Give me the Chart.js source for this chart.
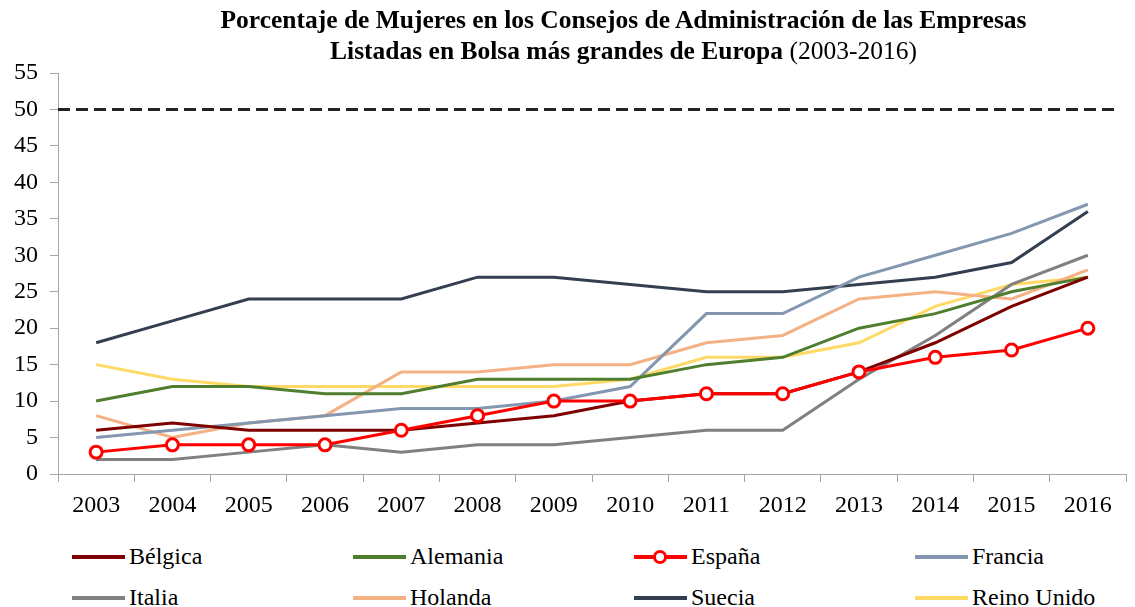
<!DOCTYPE html>
<html>
<head>
<meta charset="utf-8">
<script src="https://cdn.jsdelivr.net/npm/chart.js@4/dist/chart.umd.min.js"></script>
<style>
    body { margin: 0; background: #fff; width: 1135px; height: 607px; overflow: hidden; position: relative; font-family: 'Liberation Serif', serif; }
    #title { position: absolute; top: 4px; left: 112px; width: 1023px; text-align: center; font-size: 25.5px; line-height: 31px; color: #000; }
    #title b { font-weight: bold; }
    #chart-wrap { position: absolute; top: 0; left: 0; }
    #legend { position: absolute; top: 543px; left: 72px; width: 1100px; font-size: 24px; color: #000; }
    .item { position: absolute; display: flex; align-items: center; white-space: nowrap; }
    .swatch { position: relative; width: 53px; height: 4px; margin-right: 4px; }
    .dot { position: absolute; left: 19px; top: -5px; width: 8px; height: 8px; border-radius: 50%; background: #fff; border: 3px solid #ff0000; }
</style>
</head>
<body>
<div id="chart-wrap"><canvas id="chart" width="1135" height="530"></canvas></div>
<div id="title">
    <b>Porcentaje de Mujeres en los Consejos de Administración de las Empresas</b><br>
    <b>Listadas en Bolsa más grandes de Europa</b> (2003-2016)
</div>
<div id="legend"></div>
<script>
let years = ['2003', '2004', '2005', '2006', '2007', '2008', '2009', '2010', '2011', '2012', '2013', '2014', '2015', '2016']
let yTicks = [0, 5, 10, 15, 20, 25, 30, 35, 40, 45, 50, 55]
let target = 50

let belgica = [6, 7, 6, 6, 6, 7, 8, 10, 11, 11, 14, 18, 23, 27]
let alemania = [10, 12, 12, 11, 11, 13, 13, 13, 15, 16, 20, 22, 25, 27]
let espana = [3, 4, 4, 4, 6, 8, 10, 10, 11, 11, 14, 16, 17, 20]
let francia = [5, 6, 7, 8, 9, 9, 10, 12, 22, 22, 27, 30, 33, 37]
let italia = [2, 2, 3, 4, 3, 4, 4, 5, 6, 6, 13, 19, 26, 30]
let holanda = [8, 5, 7, 8, 14, 14, 15, 15, 18, 19, 24, 25, 24, 28]
let suecia = [18, 21, 24, 24, 24, 27, 27, 26, 25, 25, 26, 27, 29, 36]
let reinoUnido = [15, 13, 12, 12, 12, 12, 12, 13, 16, 16, 18, 23, 26, 27]

let series = [
    {label: 'Bélgica', data: belgica, color: '#7f0000'},
    {label: 'Alemania', data: alemania, color: '#4f7f2e'},
    {label: 'España', data: espana, color: '#ff0000', marker: true},
    {label: 'Francia', data: francia, color: '#8497b0'},
    {label: 'Italia', data: italia, color: '#808080'},
    {label: 'Holanda', data: holanda, color: '#f4b183'},
    {label: 'Suecia', data: suecia, color: '#333f50'},
    {label: 'Reino Unido', data: reinoUnido, color: '#ffd966'}
]

// dashed 50% reference line across the whole plot
let targetLine = {
    id: 'targetLine',
    beforeDatasetsDraw: function(chart) {
        let ctx = chart.ctx
        let area = chart.chartArea
        let y = chart.scales.y.getPixelForValue(target)
        ctx.save()
        ctx.strokeStyle = '#222'
        ctx.lineWidth = 3
        ctx.setLineDash([12, 6])
        ctx.beginPath()
        ctx.moveTo(area.left, y)
        ctx.lineTo(area.right - 8, y)
        ctx.stroke()
        ctx.restore()
    }
}

let tickFont = {family: 'Liberation Serif', size: 24}

new Chart(document.getElementById('chart'), {
    type: 'line',
    data: {
        labels: years,
        datasets: series.map(function(s) {
            return {
                label: s.label,
                data: s.data,
                borderColor: s.color,
                backgroundColor: '#fff',
                borderWidth: 3,
                tension: 0,
                pointRadius: s.marker ? 6 : 0,
                pointBorderWidth: 3,
                pointBorderColor: s.color,
                pointBackgroundColor: '#fff',
                order: s.marker ? 0 : 1
            }
        })
    },
    options: {
        responsive: false,
        animation: false,
        layout: {padding: {top: 73, right: 7, left: 0, bottom: 0}},
        plugins: {legend: {display: false}, title: {display: false}, tooltip: {enabled: false}},
        scales: {
            x: {
                offset: true,
                grid: {display: true, drawOnChartArea: false, offset: true, tickLength: 8, color: '#a6a6a6'},
                border: {color: '#a6a6a6'},
                ticks: {color: '#000', font: tickFont, padding: 9, maxRotation: 0},
                afterFit: function(scale) { scale.height = 56 }
            },
            y: {
                min: 0,
                max: 55,
                afterBuildTicks: function(scale) { scale.ticks = yTicks.map(function(v) { return {value: v} }) },
                grid: {display: true, drawOnChartArea: false, tickLength: 8, color: '#a6a6a6'},
                border: {color: '#a6a6a6'},
                ticks: {color: '#000', font: tickFont, padding: 12},
                afterFit: function(scale) { scale.width = 58 }
            }
        }
    },
    plugins: [targetLine]
})

// legend in a 4 x 2 grid like the original
let legend = document.getElementById('legend')
series.forEach(function(s, i) {
    let item = document.createElement('div')
    item.className = 'item'
    item.style.left = (i % 4) * 281 + 'px'
    item.style.top = Math.floor(i / 4) * 41 + 'px'
    let sw = document.createElement('span')
    sw.className = 'swatch'
    sw.style.background = s.color
    if (s.marker) {
        let dot = document.createElement('span')
        dot.className = 'dot'
        sw.appendChild(dot)
    }
    item.appendChild(sw)
    item.appendChild(document.createTextNode(s.label))
    legend.appendChild(item)
})
</script>
</body>
</html>
